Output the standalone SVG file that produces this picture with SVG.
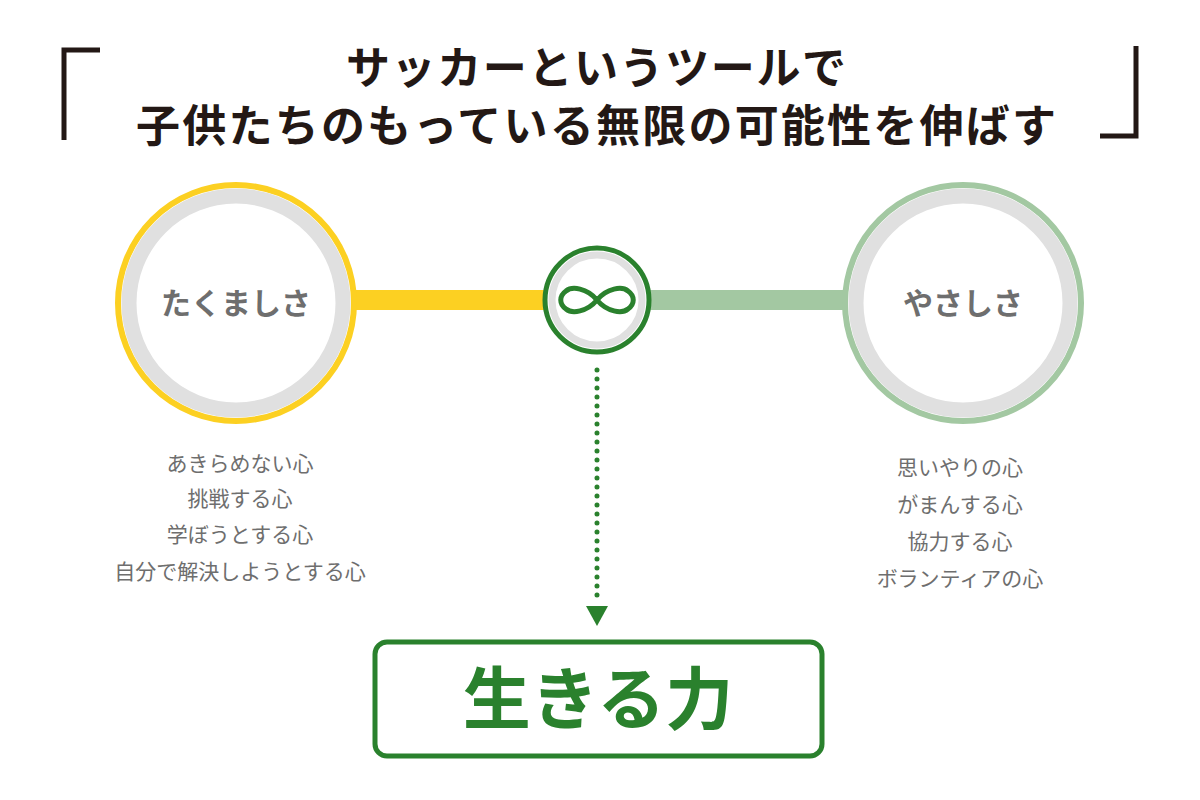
<svg xmlns="http://www.w3.org/2000/svg" width="1200" height="800" viewBox="0 0 1200 800">
<style>
text{font-family:"Noto Sans CJK JP","Noto Sans",sans-serif;text-anchor:middle}
.t{font-size:44px;font-weight:bold;fill:#231815}
.n{font-size:30px;font-weight:bold;fill:#6e6e6e}
.s{font-size:21px;fill:#6e6e6e}
</style>
<rect width="1200" height="800" fill="#fff"/>
<g id="title">
<path d="M100 50H64V140" fill="none" stroke="#231815" stroke-width="5"/>
<path d="M1100 136H1136V46" fill="none" stroke="#231815" stroke-width="5"/>
<text class="t" x="596" y="84" textLength="500">サッカーというツールで</text>
<text class="t" x="596" y="142" textLength="920">子供たちのもっている無限の可能性を伸ばす</text>
</g>
<g id="connectors">
<rect x="350" y="290" width="200" height="20" fill="#fcd022"/>
<rect x="645" y="290" width="205" height="20" fill="#a3c8a2"/>
<line x1="597" y1="370" x2="597" y2="604" stroke="#2a812d" stroke-width="5" stroke-linecap="round" stroke-dasharray="0 9"/>
<polygon points="586,606 608,606 597,626" fill="#2a812d"/>
</g>
<g id="tough">
<circle cx="236" cy="303" r="118" fill="#fff" stroke="#fcd022" stroke-width="6"/>
<circle cx="236" cy="303" r="107" fill="none" stroke="#e0e0e0" stroke-width="15"/>
<text class="n" x="236" y="314">たくましさ</text>
<text class="s" x="240" y="471">あきらめない心</text>
<text class="s" x="240" y="506">挑戦する心</text>
<text class="s" x="240" y="542">学ぼうとする心</text>
<text class="s" x="240" y="579">自分で解決しようとする心</text>
</g>
<g id="kind">
<circle cx="963" cy="303" r="118" fill="#fff" stroke="#a3c8a2" stroke-width="6"/>
<circle cx="963" cy="303" r="107" fill="none" stroke="#e0e0e0" stroke-width="15"/>
<text class="n" x="963" y="314">やさしさ</text>
<text class="s" x="960" y="475">思いやりの心</text>
<text class="s" x="960" y="512">がまんする心</text>
<text class="s" x="960" y="549">協力する心</text>
<text class="s" x="960" y="586">ボランティアの心</text>
</g>
<g id="infinity">
<circle cx="597" cy="300" r="52" fill="#fff" stroke="#2a812d" stroke-width="5"/>
<circle cx="597" cy="300" r="45" fill="none" stroke="#e0e0e0" stroke-width="7"/>
<path d="M597 300C587 288 572 286 566 291C559 296 559 304 566 309C572 314 587 312 597 300C607 288 622 286 628 291C635 296 635 304 628 309C622 314 607 312 597 300Z" fill="none" stroke="#2a812d" stroke-width="5"/>
</g>
<g id="result">
<rect x="375" y="642" width="447" height="114" rx="12" fill="#fff" stroke="#2a812d" stroke-width="5"/>
<text x="598" y="724" style="font-size:68px;font-weight:bold;fill:#2a812d">生きる力</text>
</g>
</svg>
